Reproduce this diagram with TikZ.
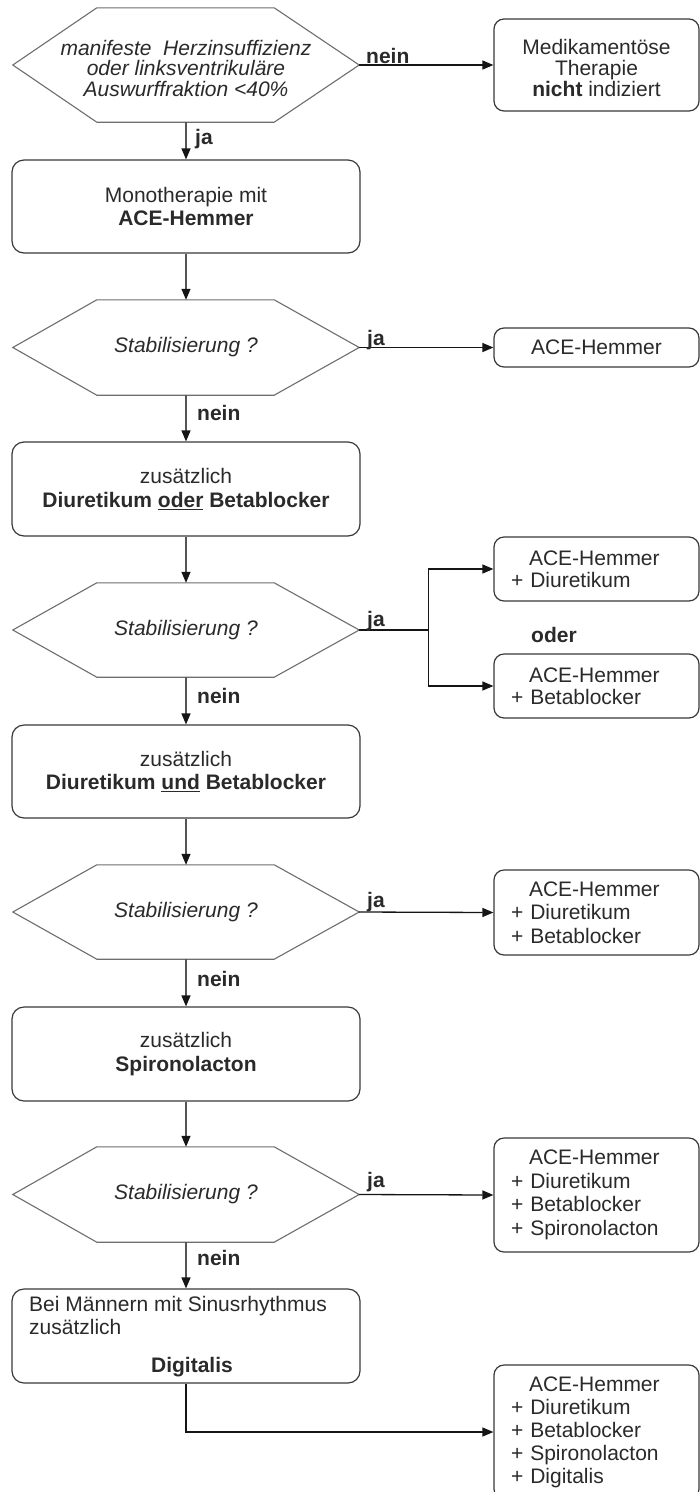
\documentclass[tikz,border=0pt]{standalone}
\usepackage{fontspec}
\setmainfont{Liberation Sans}
\usetikzlibrary{arrows.meta,calc}
\definecolor{txt}{HTML}{2A2A2A}
\definecolor{hexc}{HTML}{6E6E6E}
\definecolor{boxc}{HTML}{3A3A3A}
\definecolor{arrc}{HTML}{151515}
\definecolor{varrc}{HTML}{555555}
\newcommand{\hexdraw}[1]{%
  \draw[hexline] (#1.west) -- ($(#1.north west)+(84,0)$) -- ($(#1.north east)+(-85,0)$) -- (#1.east) -- ($(#1.south east)+(-85,0)$) -- ($(#1.south west)+(84,0)$) -- cycle;}
\begin{document}
\begin{tikzpicture}[x=1pt,y=-1pt,
  every node/.style={text=txt, font=\fontsize{21}{23.5}\selectfont},
  hexbox/.style={minimum width=346pt, inner sep=0pt, align=center, font=\fontsize{21}{19}\selectfont\itshape},
  hexline/.style={draw=hexc, line width=1.1pt, line join=miter},
  lbox/.style={draw=boxc, line width=1.2pt, rounded corners=12pt, minimum width=348pt, inner sep=0pt, align=center},
  rbox/.style={draw=boxc, line width=1.2pt, rounded corners=10pt, minimum width=205pt, inner sep=0pt, align=center},
  rlist/.style={rbox, text width=171pt, inner xsep=17pt, align=left},
  lbl/.style={font=\fontsize{21}{23}\selectfont\bfseries, inner sep=0pt, anchor=base west},
  arr/.style={draw=arrc, line width=1.3pt, -{Triangle[length=11pt,width=9pt]}},
  varr/.style={draw=varrc, line width=1.3pt, -{Triangle[length=11pt,width=9pt,color=arrc]}},
  conn/.style={draw=arrc, line width=1.3pt}
]
\fill[white] (0,0) rectangle (700,1492);
\useasboundingbox (0,0) rectangle (700,1492);

% row 1
\node[hexbox, minimum height=114pt] (h1) at (186,65) {};
\hexdraw{h1}
\node[inner sep=0pt, align=center, font=\fontsize{21}{20.5}\selectfont\itshape] (h1t) at ($(h1.center)+(0,3)$) {manifeste\ \ Herzinsuffizienz\\oder linksventrikuläre\\Auswurffraktion <40\%};
\node[rbox, minimum height=92pt] (r1) at (596.5,65) {};
\node[inner sep=0pt, align=center, font=\fontsize{21}{21}\selectfont] (r1t) at ($(r1.center)+(0,3)$) {Medikamentöse\\Therapie\\\textbf{nicht} indiziert};
\node[lbox, minimum height=93pt] (b1) at (186,206.5) {Monotherapie mit\\\textbf{ACE-Hemmer}};

% row 2
\node[hexbox, minimum height=95pt] (h2) at (186,347.5) {Stabilisierung ?};
\hexdraw{h2}
\node[rbox, minimum height=39pt] (r2) at (596.5,347.5) {ACE-Hemmer};
\node[lbox, minimum height=94pt] (b2) at (186,489) {zusätzlich\\\textbf{Diuretikum \underline{oder} Betablocker}};

% row 3
\node[hexbox, minimum height=94pt] (h3) at (186,630) {Stabilisierung ?};
\hexdraw{h3}
\node[rlist, minimum height=64pt, font=\fontsize{21}{22}\selectfont] (r3a) at (596.5,569) {\hspace*{18pt}ACE-Hemmer\\+ Diuretikum};
\node[rlist, minimum height=64pt, font=\fontsize{21}{22}\selectfont] (r3b) at (596.5,686) {\hspace*{18pt}ACE-Hemmer\\+ Betablocker};
\node[lbox, minimum height=93pt] (b3) at (186,771.5) {zusätzlich\\\textbf{Diuretikum \underline{und} Betablocker}};

% row 4
\node[hexbox, minimum height=94pt] (h4) at (186,912) {Stabilisierung ?};
\hexdraw{h4}
\node[rlist, minimum height=85pt] (r4) at (596.5,912.5) {\hspace*{18pt}ACE-Hemmer\\+ Diuretikum\\+ Betablocker};
\node[lbox, minimum height=94pt] (b4) at (186,1054) {zusätzlich\\\textbf{Spironolacton}};

% row 5
\node[hexbox, minimum height=95pt] (h5) at (186,1194.5) {Stabilisierung ?};
\hexdraw{h5}
\node[rlist, minimum height=114pt] (r5) at (596.5,1195) {\hspace*{18pt}ACE-Hemmer\\+ Diuretikum\\+ Betablocker\\+ Spironolacton};
\node[lbox, minimum height=94pt] (b5) at (186,1336) {};
\node[inner sep=0pt, anchor=base west] (b5a) at (29,1311) {Bei Männern mit Sinusrhythmus};
\node[inner sep=0pt, anchor=base west] (b5b) at (29,1334) {zusätzlich};
\node[inner sep=0pt, anchor=base, font=\fontsize{21}{23.5}\selectfont\bfseries] (b5c) at (192,1372) {Digitalis};
\node[rlist, minimum height=134pt, font=\fontsize{21}{23}\selectfont] (r6) at (596.5,1432) {\hspace*{18pt}ACE-Hemmer\\+ Diuretikum\\+ Betablocker\\+ Spironolacton\\+ Digitalis};

% connectors
\draw[arr] (h1.east) -- (r1.west);
\draw[varr] (h1.south) -- (b1.north);
\draw[varr] (b1.south) -- (h2.north);
\draw[arr] (h2.east) -- (r2.west);
\draw[varr] (h2.south) -- (b2.north);
\draw[varr] (b2.south) -- (h3.north);
\coordinate (br) at ($(h3.east)+(69,0)$);
\draw[conn] (h3.east) -- (br);
\draw[arr] (br) |- (r3a.west);
\draw[arr] (br) |- (r3b.west);
\draw[varr] (h3.south) -- (b3.north);
\draw[varr] (b3.south) -- (h4.north);
\draw[arr] (h4.east) -- (r4.west);
\draw[varr] (h4.south) -- (b4.north);
\draw[varr] (b4.south) -- (h5.north);
\draw[arr] (h5.east) -- (r5.west);
\draw[varr] (h5.south) -- (b5.north);
\draw[arr] (b5.south) |- (r6.west);

% labels
\node[lbl] (n1) at (366,63) {nein};
\node[lbl] (j1) at (195,144) {ja};
\node[lbl] (j2) at (367,345) {ja};
\node[lbl] (nn2) at (197,420) {nein};
\node[lbl] (j3) at (367,626) {ja};
\node[lbl] (oder) at (531,642) {oder};
\node[lbl] (nn3) at (197,703) {nein};
\node[lbl] (j4) at (367,907) {ja};
\node[lbl] (nn4) at (197,986) {nein};
\node[lbl] (j5) at (367,1187) {ja};
\node[lbl] (nn5) at (197,1265) {nein};
\end{tikzpicture}
\end{document}
